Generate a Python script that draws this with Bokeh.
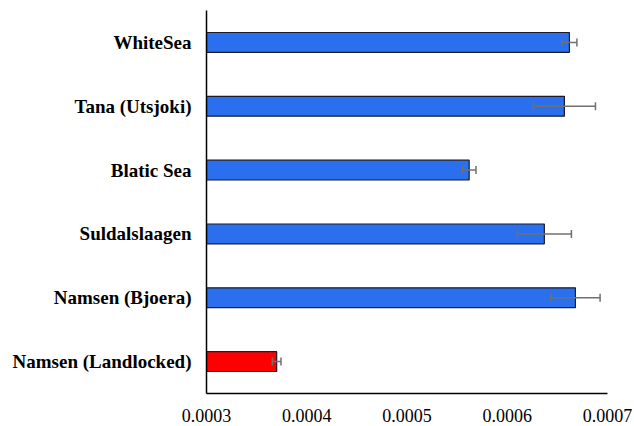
from bokeh.plotting import figure
from bokeh.models import ColumnDataSource, Whisker, Range1d, FactorRange
from bokeh.embed import file_html
from bokeh.resources import INLINE

categories = ["Namsen (Landlocked)", "Namsen (Bjoera)", "Suldalslaagen",
              "Blatic Sea", "Tana (Utsjoki)", "WhiteSea"]
values = [0.000370, 0.000668, 0.000637, 0.000562, 0.000657, 0.000662]
errors = [0.0000043, 0.0000246, 0.000027, 0.0000068, 0.000031, 0.0000075]
colors = ["#ff0000", "#2a70ee", "#2a70ee", "#2a70ee", "#2a70ee", "#2a70ee"]

src = ColumnDataSource(dict(
    cat=categories, val=values, col=colors,
    lo=[v - e for v, e in zip(values, errors)],
    hi=[v + e for v, e in zip(values, errors)],
    base=[0.0003] * len(values),
))

FONT = "Liberation Serif"

p = figure(width=634, height=426, y_range=FactorRange(*categories, range_padding=0),
           x_range=Range1d(0.0003, 0.0007), output_backend="svg",
           toolbar_location=None, min_border_left=206, min_border_right=27,
           min_border_top=10, min_border_bottom=33)
p.hbar(y="cat", left="base", right="val", height=0.31, source=src,
       fill_color="col", line_color="#1a1a2a", line_width=1.2)
w = Whisker(source=src, base="cat", lower="lo", upper="hi", dimension="width",
            line_color="#707070", line_width=1.5, level="overlay")
w.upper_head.line_color = "#707070"
w.lower_head.line_color = "#707070"
w.upper_head.size = 8
w.lower_head.size = 8
w.upper_head.line_width = 1.5
w.lower_head.line_width = 1.5
p.add_layout(w)

p.outline_line_color = None
p.grid.grid_line_color = None
p.xaxis.ticker = [0.0003, 0.0004, 0.0005, 0.0006, 0.0007]
p.xaxis.major_label_overrides = {0.0003: "0.0003", 0.0004: "0.0004", 0.0005: "0.0005",
                                 0.0006: "0.0006", 0.0007: "0.0007"}
for ax in (p.xaxis, p.yaxis):
    ax.axis_line_color = "black"
    ax.axis_line_width = 1.5
    ax.major_tick_line_color = None
    ax.minor_tick_line_color = None
    ax.major_tick_in = 0
    ax.major_tick_out = 0
    ax.major_label_text_font = FONT
    ax.major_label_text_color = "black"
p.xaxis.major_label_text_font_size = "18px"
p.xaxis.major_label_standoff = 15
p.yaxis.major_label_text_font_size = "19px"
p.yaxis.major_label_text_font_style = "bold"
p.yaxis.major_label_standoff = 15

open("out.html", "w").write(file_html(p, INLINE))
